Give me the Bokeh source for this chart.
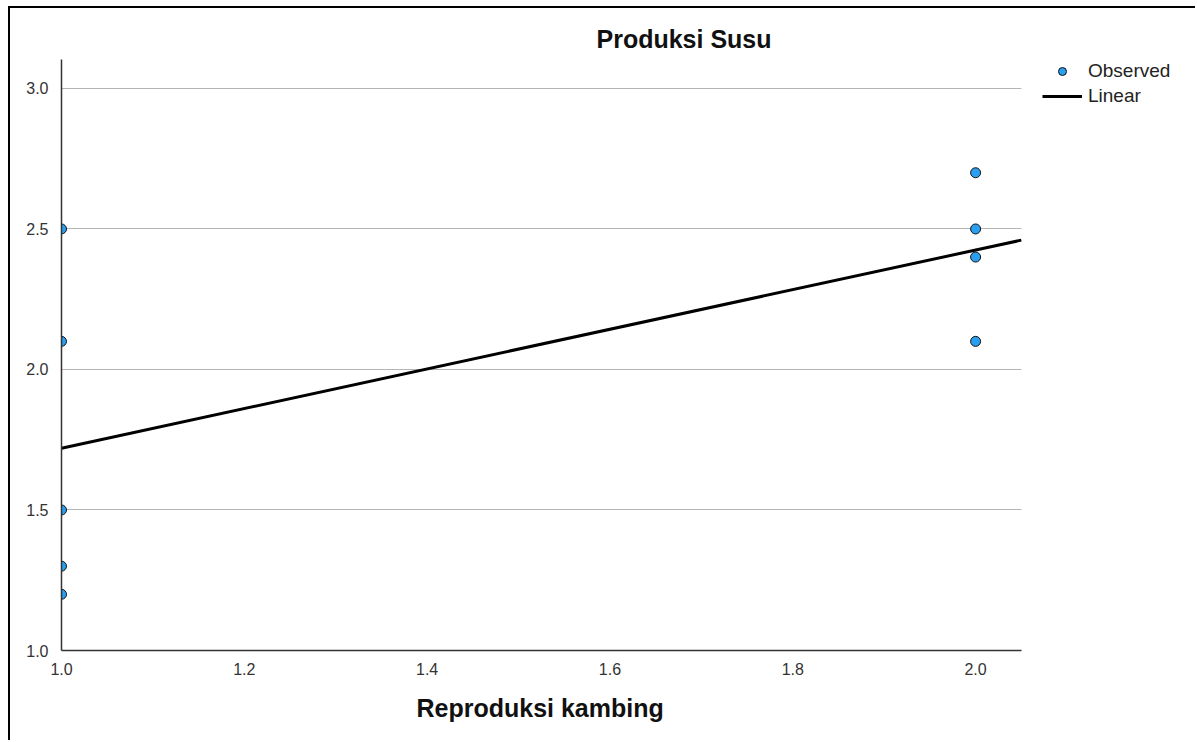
import numpy as np
from bokeh.plotting import figure
from bokeh.models import (Range1d, FixedTicker, Legend, LegendItem, ColumnDataSource,
                          PrintfTickFormatter, Title)
from bokeh.embed import file_html
from bokeh.resources import INLINE

# Data
reproduksi = [1.0, 1.0, 1.0, 1.0, 1.0, 2.0, 2.0, 2.0, 2.0]
produksi = [2.5, 2.1, 1.5, 1.3, 1.2, 2.7, 2.5, 2.4, 2.1]
x_ticks = [1.0, 1.2, 1.4, 1.6, 1.8, 2.0]
y_ticks = [1.0, 1.5, 2.0, 2.5, 3.0]

X_MIN, X_MAX = 1.0, 2.05        # axis extent
X_VIEW_MAX = 2.234              # room on the right for the legend
Y_MIN, Y_MAX = 1.0, 3.103

slope, intercept = np.polyfit(reproduksi, produksi, 1)
fit_x = [X_MIN, X_MAX]
fit_y = [intercept + slope * v for v in fit_x]

FONT = "Liberation Sans"

p = figure(width=1187, height=734, output_backend="svg", toolbar_location=None,
           x_range=Range1d(X_MIN, X_VIEW_MAX), y_range=Range1d(Y_MIN, Y_MAX),
           min_border_left=51, min_border_right=8, min_border_top=51, min_border_bottom=92)
p.styles = {"border-left": "2px solid black", "border-top": "2px solid black",
            "margin-left": "8px", "margin-top": "6px"}

p.outline_line_color = None
p.background_fill_color = "white"
p.border_fill_color = "white"

p.title.text = "Produksi Susu"
p.title.align = "left"
p.title.offset = 535
p.title.standoff = 13
p.title.text_font = FONT
p.title.text_font_size = "25px"
p.title.text_font_style = "bold"
p.title.text_color = "#111111"

p.xgrid.grid_line_color = None
p.ygrid.grid_line_color = "#b4b4b4"
p.ygrid.grid_line_width = 1
p.ygrid.ticker = FixedTicker(ticks=y_ticks[1:])
p.ygrid.cross_bounds = (X_MIN, X_MAX)

for ax in (p.xaxis[0], p.yaxis[0]):
    ax.major_tick_line_color = None
    ax.minor_tick_line_color = None
    ax.axis_line_color = "#333333"
    ax.axis_line_width = 1.5
    ax.major_label_text_font = FONT
    ax.major_label_text_font_size = "16px"
    ax.major_label_text_color = "#333333"
    ax.formatter = PrintfTickFormatter(format="%.1f")

p.xaxis[0].bounds = (X_MIN, X_MAX)
p.xaxis[0].ticker = FixedTicker(ticks=x_ticks)
p.yaxis[0].ticker = FixedTicker(ticks=y_ticks)
p.xaxis[0].major_label_standoff = 6
p.yaxis[0].major_label_standoff = 7

xlabel = Title(text="Reproduksi kambing", align="left", offset=355, standoff=29,
               text_font=FONT, text_font_size="25px", text_font_style="bold",
               text_color="#111111")
p.add_layout(xlabel, "below")

line_r = p.line(fit_x, fit_y, line_color="black", line_width=3)
src = ColumnDataSource(dict(x=reproduksi, y=produksi))
pts = p.scatter("x", "y", source=src, size=10, fill_color="#2a9ff0",
                line_color="#111111", line_width=1)

legend = Legend(items=[LegendItem(label="Observed", renderers=[pts]),
                       LegendItem(label="Linear", renderers=[line_r])],
                location=(981, 543), orientation="vertical",
                glyph_width=40, glyph_height=20, label_height=20, spacing=3,
                label_standoff=6, padding=0, margin=0,
                border_line_color=None, background_fill_alpha=0,
                label_text_font=FONT, label_text_font_size="19px",
                label_text_color="#222222")
p.add_layout(legend, "center")

open("out.html", "w").write(file_html(p, INLINE))
